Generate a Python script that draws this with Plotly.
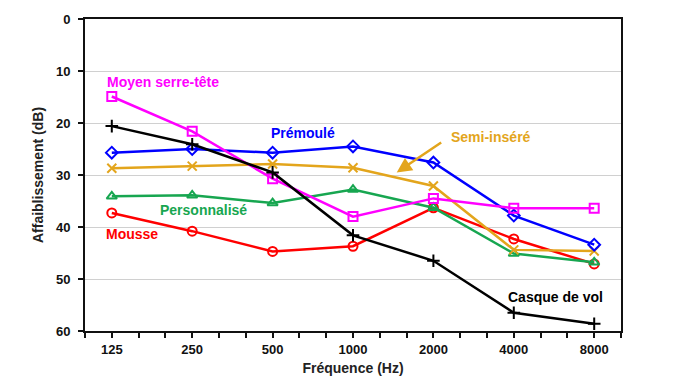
import plotly.graph_objects as go
import math

freqs = [125, 250, 500, 1000, 2000, 4000, 8000]
freq_labels = ["125", "250", "500", "1000", "2000", "4000", "8000"]

mousse = [37.3, 40.8, 44.7, 43.7, 36.3, 42.3, 47.1]
personnalise = [34.1, 33.9, 35.4, 32.8, 36.3, 45.1, 46.8]
semi_insere = [28.7, 28.3, 27.9, 28.6, 32.1, 44.4, 44.6]
premoule = [25.7, 25.0, 25.7, 24.5, 27.6, 37.8, 43.4]
moyen_serre_tete = [14.9, 21.6, 30.7, 38.0, 34.5, 36.4, 36.4]
casque_de_vol = [20.6, 24.1, 29.5, 41.6, 46.5, 56.5, 58.6]

series = [
    ("Mousse", mousse, "#FF0000", "circle-open"),
    ("Personnalisé", personnalise, "#17A650", "triangle-up-open"),
    ("Semi-inséré", semi_insere, "#E3A51C", "x-thin-open"),
    ("Prémoulé", premoule, "#0000FF", "diamond-open"),
    ("Moyen serre-tête", moyen_serre_tete, "#FF00FF", "square-open"),
    ("Casque de vol", casque_de_vol, "#000000", "cross-thin-open"),
]

fig = go.Figure()
for name, vals, color, sym in series:
    fig.add_trace(go.Scatter(
        x=freqs, y=vals, name=name, mode="lines+markers",
        line=dict(color=color, width=2.5),
        marker=dict(symbol=sym, size=9, color=color,
                    line=dict(color=color, width=2)),
        showlegend=False,
    ))

step = 2 ** (1 / 3)
tickvals = [125 * step ** k for k in range(-1, 20)]
ticktext = [freq_labels[k // 3] if (k >= 0 and k % 3 == 0) else "" for k in range(-1, 20)]

font_fam = "Liberation Sans, Arial, sans-serif"

fig.update_xaxes(
    type="log",
    range=[math.log10(125) - math.log10(2) / 3, math.log10(8000) + math.log10(2) / 3],
    tickmode="array", tickvals=tickvals, ticktext=ticktext,
    ticks="outside", ticklen=5, tickwidth=1.5, tickcolor="#111",
    showline=True, linecolor="#111", linewidth=2, mirror=True,
    showgrid=False, zeroline=False,
    tickfont=dict(family=font_fam, size=13, color="#111", weight="bold"),
    title=dict(text="<b>Fréquence (Hz)</b>", font=dict(family=font_fam, size=14, color="#222"), standoff=8),
)
fig.update_yaxes(
    range=[60, 0], tickvals=[0, 10, 20, 30, 40, 50, 60],
    ticks="outside", ticklen=5, tickwidth=1.5, tickcolor="#111",
    showline=True, linecolor="#111", linewidth=2, mirror=True,
    showgrid=True, gridcolor="#d0d0d0", gridwidth=1,
    zeroline=False, ticklabelstandoff=5,
    tickfont=dict(family=font_fam, size=13, color="#111", weight="bold"),
    title=dict(text="<b>Affaiblissement (dB)</b>", font=dict(family=font_fam, size=14, color="#222"), standoff=9),
)

labels = [
    ("Moyen serre-tête", "#FF00FF", 0.0373, 0.797),
    ("Prémoulé", "#0000FF", 0.343, 0.635),
    ("Semi-inséré", "#E3A51C", 0.679, 0.623),
    ("Personnalisé", "#17A650", 0.137, 0.389),
    ("Mousse", "#FF0000", 0.036, 0.312),
    ("Casque de vol", "#000000", 0.785, 0.109),
]
for text, color, px, py in labels:
    fig.add_annotation(
        text=f"<b>{text}</b>", x=px, y=py, xref="paper", yref="paper",
        xanchor="left", yanchor="middle", showarrow=False,
        font=dict(family=font_fam, size=14, color=color),
    )

fig.add_annotation(
    text="", x=0.5815, y=0.508, xref="paper", yref="paper",
    ax=46, ay=-31, showarrow=True, arrowhead=2, arrowsize=1.2,
    arrowwidth=2.5, arrowcolor="#E3A51C",
)

fig.update_layout(
    width=700, height=390,
    margin=dict(l=85, r=79, t=16, b=59),
    plot_bgcolor="white", paper_bgcolor="white",
)

fig.write_html(
    "out.html",
    config={"displayModeBar": False},
    post_script="document.body.style.margin='0';document.body.style.overflow='hidden';",
)
